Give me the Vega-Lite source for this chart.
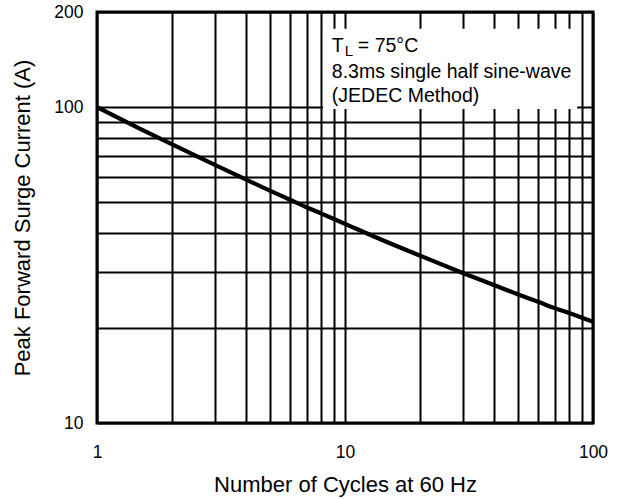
{
  "$schema": "https://vega.github.io/schema/vega-lite/v6.json",
  "width": 496,
  "height": 411,
  "autosize": {"type": "none"},
  "padding": {"left": 97, "top": 12, "right": 32, "bottom": 76},
  "background": "white",
  "config": {
    "font": "Liberation Sans",
    "view": {"stroke": "black", "strokeWidth": 3},
    "axis": {
      "grid": true,
      "gridColor": "black",
      "gridWidth": 2,
      "gridOpacity": 1,
      "ticks": false,
      "domain": false,
      "labelColor": "black",
      "labelFontSize": 17.5,
      "labelFont": "Liberation Sans",
      "labelOverlap": false,
      "labelFlush": false,
      "titleColor": "black",
      "titleFont": "Liberation Sans",
      "titleFontSize": 22,
      "titleFontWeight": "normal"
    }
  },
  "encoding": {
    "x": {
      "field": "x",
      "type": "quantitative",
      "scale": {"type": "log", "domain": [1, 100], "nice": false},
      "axis": {
        "values": [1, 2, 3, 4, 5, 6, 7, 8, 9, 10, 20, 30, 40, 50, 60, 70, 80, 90, 100],
        "format": "d",
        "labelExpr": "datum.value == 1 || datum.value == 10 || datum.value == 100 ? datum.label : ''",
        "labelPadding": 20,
        "title": "Number of Cycles at 60 Hz",
        "titlePadding": 14
      }
    },
    "y": {
      "field": "y",
      "type": "quantitative",
      "scale": {"type": "log", "domain": [10, 200], "nice": false},
      "axis": {
        "values": [10, 20, 30, 40, 50, 60, 70, 80, 90, 100, 200],
        "format": "d",
        "labelExpr": "datum.value == 10 || datum.value == 100 || datum.value == 200 ? datum.label : ''",
        "labelPadding": 14,
        "title": "Peak Forward Surge Current (A)",
        "titlePadding": 19
      }
    }
  },
  "layer": [
    {
      "data": {"values": [{"x": 8.15, "x2": 86.3, "y": 98.6, "y2": 177}]},
      "mark": {"type": "rect", "fill": "white", "strokeWidth": 0},
      "encoding": {
        "x2": {"field": "x2"},
        "y2": {"field": "y2"}
      }
    },
    {
      "data": {"values": [
        {"x": 1, "y": 100},
        {"x": 1.5, "y": 85.2},
        {"x": 2, "y": 76.3},
        {"x": 3, "y": 65.5},
        {"x": 4, "y": 58.9},
        {"x": 5, "y": 54.3},
        {"x": 6, "y": 50.9},
        {"x": 7, "y": 48.2},
        {"x": 8, "y": 46.1},
        {"x": 10, "y": 42.7},
        {"x": 15, "y": 37.2},
        {"x": 20, "y": 33.9},
        {"x": 30, "y": 29.8},
        {"x": 40, "y": 27.3},
        {"x": 50, "y": 25.5},
        {"x": 60, "y": 24.2},
        {"x": 70, "y": 23.1},
        {"x": 80, "y": 22.3},
        {"x": 100, "y": 20.9}
      ]},
      "mark": {"type": "line", "color": "black", "strokeWidth": 4.2, "interpolate": "monotone", "clip": true}
    },
    {
      "data": {"values": [{"x": 8.85, "y": 149.4, "t": "T"}]},
      "mark": {"type": "text", "align": "left", "baseline": "alphabetic", "fontSize": 19.5, "color": "black"},
      "encoding": {"text": {"field": "t"}}
    },
    {
      "data": {"values": [{"x": 8.85, "y": 149.4, "t": "L"}]},
      "mark": {"type": "text", "align": "left", "baseline": "alphabetic", "fontSize": 15, "dx": 13, "dy": 4, "color": "black"},
      "encoding": {"text": {"field": "t"}}
    },
    {
      "data": {"values": [{"x": 8.85, "y": 149.4, "t": "= 75°C"}]},
      "mark": {"type": "text", "align": "left", "baseline": "alphabetic", "fontSize": 19.5, "dx": 26, "color": "black"},
      "encoding": {"text": {"field": "t"}}
    },
    {
      "data": {"values": [
        {"x": 8.85, "y": 123.6, "t": "8.3ms single half sine-wave"},
        {"x": 8.85, "y": 103.8, "t": "(JEDEC Method)"}
      ]},
      "mark": {"type": "text", "align": "left", "baseline": "alphabetic", "fontSize": 19.5, "color": "black"},
      "encoding": {"text": {"field": "t"}}
    }
  ]
}
